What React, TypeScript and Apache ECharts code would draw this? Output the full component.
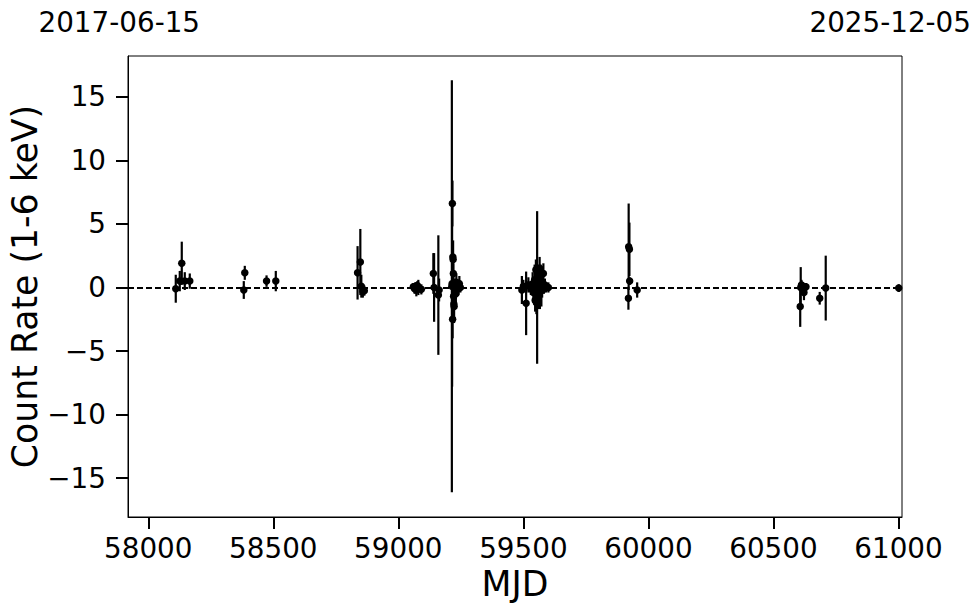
import React, { useEffect, useRef } from "react";
import * as echarts from "echarts";

// MJD of each observation
const mjd = [
  58110, 58126, 58134, 58146, 58166,
  58382, 58386, 58473, 58510,
  58837, 58848, 58852, 58858, 58864,
  59060, 59065, 59068, 59072, 59076, 59080, 59085, 59092,
  59140, 59143, 59160, 59163,
  59214, 59215, 59216, 59218, 59219, 59220, 59221, 59222, 59223, 59217,
  59225, 59228, 59230, 59232, 59236, 59240, 59244, 59248,
  59494, 59500, 59511, 59520, 59530, 59537, 59540, 59545, 59547, 59550,
  59552, 59555, 59558, 59560, 59563, 59565, 59566, 59569, 59572, 59575,
  59578, 59580, 59582, 59586, 59590, 59600,
  59920, 59921, 59924, 59925, 59955,
  60607, 60609, 60612, 60615, 60618, 60622, 60626, 60630,
  60685, 60709, 61001,
];

// count rate (1-6 keV)
const rate = [
  -0.1, 0.5, 1.9, 0.5, 0.5,
  -0.2, 1.15, 0.5, 0.5,
  1.15, 2.0, 0.1, -0.3, -0.25,
  0.05, -0.1, 0.1, -0.2, 0.15, 0.0, -0.1, -0.15,
  1.1, 0.0, -0.6, -0.2,
  0.1, 0.3, 6.6, 2.4, 2.2, 1.1, -0.7, -1.3, -1.5, -2.5,
  0.2, -0.3, -0.5, 0.4, 0.1, -0.1, 0.3, 0.0,
  -0.2, 0.1, -1.25, 0.2, -0.1, 0.3, -0.4, 0.6, -1.0, 1.4,
  -1.2, 0.0, 0.5, -0.6, 0.2, 1.5, -0.3, 0.9, 0.1, -0.2,
  0.3, 1.1, -0.1, 0.2, 0.0, 0.0,
  -0.85, 3.2, 3.0, 0.5, -0.2,
  -1.5, 0.0, 0.2, -0.1, 0.1, -0.4, 0.0, 0.05,
  -0.85, -0.05, -0.05,
];

// 1-sigma error
const err = [
  1.1, 0.8, 1.7, 0.7, 0.6,
  0.7, 0.55, 0.45, 0.8,
  2.1, 2.6, 0.9, 0.5, 0.4,
  0.3, 0.4, 0.3, 0.5, 0.35, 0.6, 0.3, 0.4,
  1.6, 2.7, 4.7, 0.9,
  16.2, 8.1, 1.8, 1.0, 1.5, 0.8, 1.2, 1.0, 1.3, 1.5,
  0.5, 0.6, 0.8, 0.7, 0.4, 0.5, 0.6, 0.4,
  1.1, 0.5, 2.5, 0.6, 0.5, 0.9, 0.8, 1.2, 0.9, 0.8,
  0.9, 6.0, 1.3, 1.1, 0.7, 0.9, 1.4, 0.9, 1.6, 0.6,
  0.5, 0.8, 0.4, 0.5, 0.4, 0.4,
  0.9, 3.4, 2.1, 0.3, 0.6,
  1.6, 1.6, 0.4, 0.5, 0.3, 0.6, 0.3, 0.3,
  0.5, 2.55, 0.3,
];

const xTicks = [58000, 58500, 59000, 59500, 60000, 60500, 61000];
const yTicks = [-15, -10, -5, 0, 5, 10, 15];
const startDate = "2017-06-15";
const endDate = "2025-12-05";

const FONT = "DejaVu Sans";

export default function App() {
  const ref = useRef<HTMLDivElement>(null);
  useEffect(() => {
    if (!ref.current) return;
    const chart = echarts.init(ref.current, null, { renderer: "svg" });
    const pts = mjd.map((m, i) => [m, rate[i], err[i]]);
    chart.setOption({
      animation: false,
      backgroundColor: "#fff",
      grid: {
        left: 128,
        top: 56,
        width: 774,
        height: 461,
        show: true,
        borderColor: "#000",
        borderWidth: 1,
        containLabel: false,
        outerBoundsMode: "none",
      },
      xAxis: {
        type: "value",
        min: 57919,
        max: 61014,
        splitLine: { show: false },
        axisLine: { show: true, onZero: false, lineStyle: { color: "#000", width: 1 } },
        axisTick: {
          show: true,
          customValues: xTicks,
          length: 12,
          inside: false,
          lineStyle: { color: "#000", width: 2 },
        },
        axisLabel: {
          customValues: xTicks,
          formatter: (v: number) => String(v),
          color: "#000",
          fontFamily: FONT,
          fontSize: 27.8,
          margin: 17,
        },
      },
      yAxis: {
        type: "value",
        min: -18.05,
        max: 18.2,
        splitLine: { show: false },
        axisLine: { show: true, onZero: false, lineStyle: { color: "#000", width: 1 } },
        axisTick: {
          show: true,
          customValues: yTicks,
          length: 12,
          inside: false,
          lineStyle: { color: "#000", width: 2 },
        },
        axisLabel: {
          customValues: yTicks,
          formatter: (v: number) => (v < 0 ? "\u2212" + Math.abs(v) : String(v)),
          color: "#000",
          fontFamily: FONT,
          fontSize: 27.8,
          margin: 22,
        },
      },
      series: [
        {
          type: "custom",
          data: pts,
          encode: { x: 0, y: 1 },
          renderItem: (params: any, api: any) => {
            const x = api.value(0);
            const y = api.value(1);
            const e = api.value(2);
            const p1 = api.coord([x, y - e]);
            const p2 = api.coord([x, y + e]);
            return {
              type: "line",
              shape: { x1: p1[0], y1: p1[1], x2: p2[0], y2: p2[1] },
              style: { stroke: "#000", lineWidth: 2.2 },
            };
          },
          z: 2,
        },
        {
          type: "scatter",
          data: pts.map((p) => [p[0], p[1]]),
          symbol: "circle",
          symbolSize: 7.5,
          itemStyle: { color: "#000", opacity: 1 },
          z: 3,
          markLine: {
            silent: true,
            symbol: ["none", "none"],
            label: { show: false },
            lineStyle: { color: "#000", width: 2, type: [6, 3], opacity: 1 },
            data: [{ yAxis: 0 }],
          },
        },
      ],
      graphic: [
        {
          type: "text",
          x: 25,
          y: 286.5,
          rotation: Math.PI / 2,
          style: {
            text: "Count Rate (1-6 keV)",
            font: `34.7px "${FONT}"`,
            fill: "#000",
            align: "center",
            verticalAlign: "middle",
          },
        },
        {
          type: "text",
          x: 515,
          y: 584,
          style: {
            text: "MJD",
            font: `34.7px "${FONT}"`,
            fill: "#000",
            align: "center",
            verticalAlign: "middle",
          },
        },
        {
          type: "text",
          x: 38.5,
          y: 22.5,
          style: {
            text: startDate,
            font: `27.8px "${FONT}"`,
            fill: "#000",
            align: "left",
            verticalAlign: "middle",
          },
        },
        {
          type: "text",
          x: 971,
          y: 22.5,
          style: {
            text: endDate,
            font: `27.8px "${FONT}"`,
            fill: "#000",
            align: "right",
            verticalAlign: "middle",
          },
        },
      ],
    });
    return () => chart.dispose();
  }, []);
  return <div ref={ref} style={{ width: 980, height: 613, position: "absolute", left: 0, top: 0 }} />;
}
